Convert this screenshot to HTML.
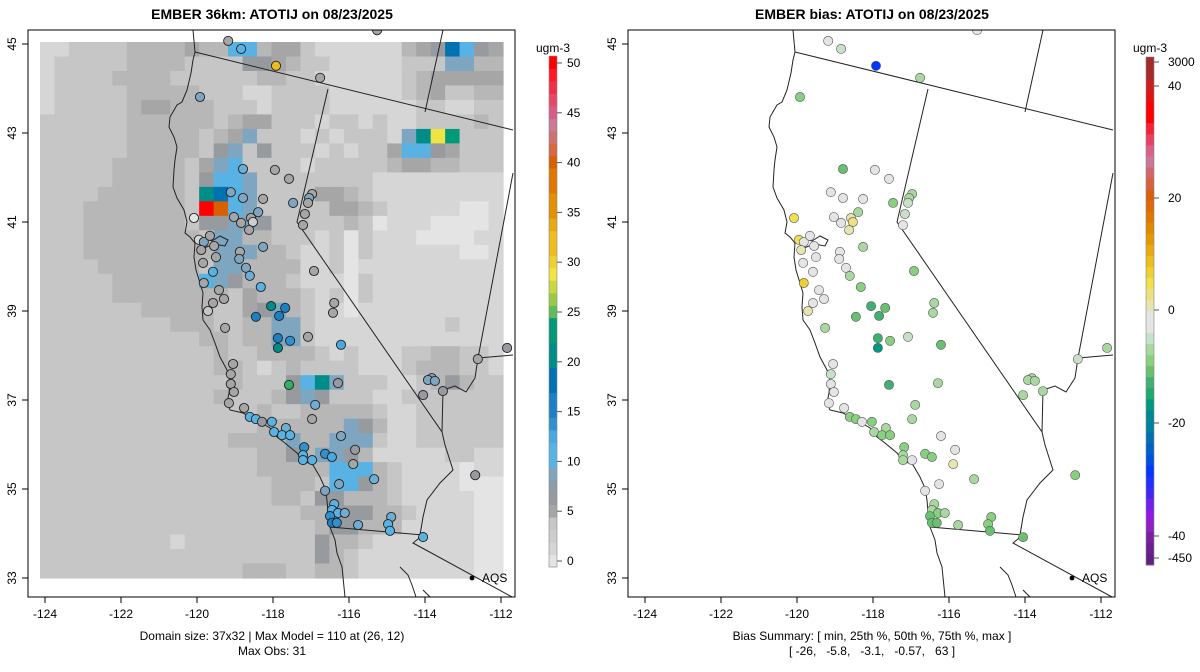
<!DOCTYPE html>
<html><head><meta charset="utf-8"><style>
html,body{margin:0;padding:0;background:#fff;}
svg{display:block;font-family:"Liberation Sans",Arial,sans-serif;}
</style></head><body>
<svg id="root" width="1200" height="672" viewBox="0 0 1200 672" xmlns="http://www.w3.org/2000/svg">
<defs>
<clipPath id="clipL"><rect x="28" y="30" width="487" height="567"/></clipPath>
<clipPath id="clipR"><rect x="628" y="30" width="487" height="567"/></clipPath>
</defs>
<rect width="1200" height="672" fill="#fff"/>
<text x="272" y="19" text-anchor="middle" font-size="14" font-weight="bold">EMBER 36km: ATOTIJ on 08/23/2025</text>
<text x="872" y="19" text-anchor="middle" font-size="14" font-weight="bold">EMBER bias: ATOTIJ on 08/23/2025</text>
<g id="leftPanel">
 <g id="gridL" clip-path="url(#clipL)"></g>
 <g id="mapL" clip-path="url(#clipL)"></g>
 <g id="sitesL" clip-path="url(#clipL)"></g>
 <rect x="28" y="30" width="487" height="567" fill="none" stroke="#000" stroke-width="1"/>
</g>
<g id="rightPanel">
 <g id="mapR" clip-path="url(#clipR)"></g>
 <g id="sitesR" clip-path="url(#clipR)"></g>
 <rect x="628" y="30" width="487" height="567" fill="none" stroke="#000" stroke-width="1"/>
</g>
<g id="axes"></g>
<g id="cbL"></g>
<g id="cbR"></g>
<text x="272" y="640" text-anchor="middle" font-size="12">Domain size: 37x32 | Max Model = 110 at (26, 12)</text>
<text x="272" y="655" text-anchor="middle" font-size="12">Max Obs: 31</text>
<text x="872" y="640" text-anchor="middle" font-size="12">Bias Summary: [ min, 25th %, 50th %, 75th %, max ]</text>
<text x="872" y="655" text-anchor="middle" font-size="12" xml:space="preserve">[ -26,   -5.8,   -3.1,   -0.57,   63 ]</text>
</svg>
<script>
// ---------- data ----------
var lonTicks = [-124,-122,-120,-118,-116,-114,-112];
var latTicks = [33,35,37,39,41,43,45];
var gridRows = [
"bbccccddddeddhhdeecbbbbbbdefihfe",
"bcccccddddccccffedccbbbbbcccggdd",
"bccccddddccccccddccbbbbbbcdeeeee",
"bcccccdddddcccbbccccbbbbbcdeccdd",
"bcccccdeedddcccbccccbbbbbbccbbcc",
"ccccccddddddcdeecccbccbcbbccccdc",
"ccccccdddddcdegcccbcbcccbgjlkccc",
"ccccccdddddcfgcfcccbcbccehhfeccc",
"cccccdddddceghccccbcccccdeeddccc",
"cccccdddddcfhhgccccccccbbbbbbbbb",
"ccccddddddcjihgcccceedcbbbbbbbbb",
"cccdddddddcnmhgccccceedcbbbbbaab",
"cccdddddddcffggfcccccdcabbbaaaab",
"cccddddddddcggddcccbcacbbbaaaabb",
"cccdddddddddgggddcbbcacbbbbbbaab",
"ccccdddddddcggddddbbcabbbbbbbbbb",
"cccccddddddhgfdddcbbbacbbbbbbbbb",
"cccccddddddddcedddcbcacbbbbbbbbb",
"cccccccdddddccefgdcbbabbbbbbbbbb",
"cccccccccdddccddggcbbbbbbbbbcbbb",
"cccccccccccddcddggcbbbbbbbbbbbbb",
"ccccccccccccdccddddcbcbbbccddccb",
"ccccccccccccddcbcdccccbbbcdddccb",
"cccccccccccccdcccfhjgcccbbcdfdcc",
"ccccccccccccdcccdfgfcccbbccccccc",
"cccccccccccccccdccdddddcbbcccccc",
"cccccccccccccccddddddgfdbbcccccc",
"cccccccccccccddddgddgggcbbcccccc",
"cccccccccccccccddfdggfdbbbbbccbb",
"cccccccccccccccdddddhhhdcbbbbabb",
"ccccccccccccccccdddchhfdcbbbbaaa",
"ccccccccccccccccddcffdddcbbbbbaa",
"ccccccccccccccccccddfffddcbbbbaa",
"cccccccccccccccccccdffdddbbbbbaa",
"cccccccccbcccccccccfddcbbbbbbbaa",
"cccccccccccccccccccfdcbbbbbbbbaa",
"ccccccccccccccdddccddcbbbbbbbbaa"
];
var gridLevels = {a:0.5,b:1.5,c:3.5,d:4.5,e:5.5,f:6.5,g:8.5,h:11,i:17.5,j:20,k:23,l:28.5,m:40,n:50};
var siteLon = [-119.18,-118.84,-117.92,-116.76,-115.26,-119.92,-118.79,-117.95,-117.58,-119.11,-118.79,-118.26,-117.47,-116.97,-117.05,-117.08,-117.16,-117.21,-120.08,-118.39,-119.03,-118.84,-118.58,-118.53,-118.63,-119.95,-119.82,-119.66,-119.55,-119.89,-118.26,-118.87,-118.89,-119.5,-119.84,-119.58,-118.71,-118.61,-116.92,-119.82,-119.42,-118.32,-119.29,-119.58,-119.71,-116.39,-116.42,-118.05,-117.68,-117.84,-118.45,-119.26,-117.87,-117.55,-117.87,-117.08,-116.21,-119.05,-119.11,-119.11,-119.03,-119.16,-118.76,-117.58,-116.29,-116.89,-116.97,-118.61,-118.45,-118.29,-118.03,-117.66,-117.97,-117.76,-117.55,-116.21,-117.18,-115.84,-116.63,-116.45,-117.21,-117.21,-116.97,-115.89,-115.34,-116.26,-116.63,-116.39,-116.45,-116.29,-116.11,-116.5,-116.45,-116.32,-115.76,-114.89,-114.97,-114.92,-114.05,-113.82,-113.92,-113.74,-114.05,-113.53,-112.61,-111.84,-112.68];
var siteLat = [45.07,44.89,44.51,44.24,45.31,43.81,42.19,42.17,41.97,41.67,41.54,41.52,41.43,41.63,41.54,41.43,41.18,40.93,41.09,41.22,41.11,40.98,41.09,41.0,40.82,40.6,40.55,40.69,40.46,40.37,40.44,40.33,40.17,40.21,40.08,39.88,39.97,39.79,39.9,39.63,39.47,39.54,39.27,39.18,39.0,39.18,38.96,39.11,39.07,38.89,38.87,38.62,38.39,38.33,38.17,38.42,38.24,37.81,37.58,37.36,37.18,36.93,36.82,37.34,37.38,36.89,36.57,36.62,36.57,36.51,36.51,36.37,36.28,36.21,36.21,36.19,35.94,35.88,35.79,35.72,35.76,35.65,35.65,35.56,35.22,35.11,34.96,34.66,34.53,34.46,34.46,34.39,34.24,34.24,34.19,34.37,34.21,34.06,33.92,37.49,37.45,37.43,37.11,37.2,37.92,38.17,35.31];
var siteObs = [5,11,32,5,5,8.5,9.5,5,5,8,8.5,5.5,8.5,5,8,5,5,5,0.5,8.5,5,5,5,2,5,1,8.5,5,5,5,8.5,5,8.5,5,5,10.5,8.5,9,5,5,5,11,5,5,3,5,5,20,15,16,15,5.5,16,14,20,5,12,5,5,5,5,5,5,24,6,9,5,11,11,6,11,9,11,11,11,8.5,14,6,14,12,11,11,11,5,9,8.5,8.5,11,11,11,9,14,15,14,9,9,11,11,11,8,8,8,6,6,5,6,6];
var siteBias = [0,-1,-26,-5,0,-6,-10,0,0,0,0,0,-6,-4,-4,-1,-1,0,7,-4,0,0,3,4,3,8,0,0,0,3,-4,0,0,0,0,0,0,-4,-6,10,0,-7,0,0,3,-3,-3,-14,-9,-12,-10,-5,-13,-8,-18,-2,-10,0,-1,0,0,0,0,-12,-3,-4,-3,-8,-8,0,-7,-4,-5,-6,-7,0,-7,0,-7,-8,-3,-3,0,3,-4,0,0,-5,-5,-8,-5,-9,-9,-10,-3,-8,-7,-9,-9,-3,-3,-3,-4,-4,-2,-4,-8];
var cbLTicks = [0,5,10,15,20,25,30,35,40,45,50];
var cbRLabels = ["3000","40","20","0","-20","-40","-450"];
var cbRLabelY = [62,86,198,310,423,536,558];

// ---------- axis functions ----------
function xL(lon){return 45+(lon+124)*38;}
function yL(lat){return 578-(lat-33)*44.5;}
var NS="http://www.w3.org/2000/svg";
function mk(tag,attrs,parent){var e=document.createElementNS(NS,tag);for(var k in attrs)e.setAttribute(k,attrs[k]);parent.appendChild(e);return e;}

function obsColor(v){
 var s=[[1,"#e4e4e4"],[2,"#d6d6d6"],[3,"#cdcdcd"],[4,"#c6c6c6"],[5,"#b7b7b7"],[6,"#a6a6a6"],[7,"#979b9f"],[8,"#8c9ca8"],[9,"#7ea6c0"],[10,"#6eaed4"],[12,"#58b2e4"],[13,"#48a8e0"],[15,"#3090d0"],[17,"#1c80c4"],[19,"#0072b2"],[20,"#007c98"],[22,"#008c88"],[24,"#009a78"],[25,"#30b060"],[26,"#60bc58"],[27,"#98cc48"],[28,"#c8d840"],[29,"#f0e442"],[31,"#f0d030"],[33,"#ecbc20"],[35,"#e8a810"],[37,"#e49000"],[39,"#e07800"],[41,"#d86000"],[42,"#d86840"],[43,"#d07070"],[45,"#cc7898"],[46,"#dc5c88"],[47,"#e84868"],[48,"#f03048"],[49.5,"#ff1828"],[999,"#ff0000"]];
 for(var i=0;i<s.length;i++) if(v<s[i][0]) return s[i][1];
 return "#ff0000";
}
function biasColor(v){
 if(v>-1&&v<1) return "#e4e4e4";
 var pos=[[4,"#e8e4b0"],[7,"#ece080"],[9,"#f0e050"],[11,"#f0d030"],[13,"#ecbc20"],[15,"#e8a810"],[17,"#e49000"],[20,"#e07800"],[25,"#d86010"],[30,"#d06868"],[35,"#c87898"],[40,"#e84060"],[999,"#ff0000"]];
 var neg=[[3,"#c8e0c8"],[6,"#a8d8a0"],[9,"#88d080"],[12,"#68c070"],[15,"#40b070"],[17,"#20a870"],[19,"#009880"],[21,"#0080a0"],[23,"#0060c8"],[25,"#0050e0"],[28,"#0038ff"],[32,"#4028f0"],[36,"#7020e8"],[40,"#9018e0"],[999,"#6c2090"]];
 var arr=v>0?pos:neg, a=Math.abs(v);
 for(var i=0;i<arr.length;i++) if(a<arr[i][0]) return arr[i][1];
 return "#000";
}

// ---------- heatmap ----------
var gL=document.getElementById("gridL");
var g0x=40,g0y=42,cw=463/32,ch=536/37;
for(var r=0;r<gridRows.length;r++){
 var row=gridRows[r];
 for(var c=0;c<32;c++){
  var v=gridLevels[row.charAt(c)]; if(v===undefined) v=3.5;
  var cell=mk("rect",{x:(g0x+c*cw).toFixed(2),y:(g0y+r*ch).toFixed(2),width:(cw+0.6).toFixed(2),height:(ch+0.6).toFixed(2),fill:obsColor(v)},gL);
  
  
 }
}

// ---------- basemap (pixel geometry of left panel) ----------
var mapPath="M193,30 L195,52 L193,60 L191,73 L187,90 L182,102 L177,105 L170,117 L169,127 L174,137 L177,147 L175,160 L174,170 L173,187 L177,198 L184,210 L187,222 L185,233 L190,237 L195,243 L194,257 L196,270 L200,283 L203,293 L202,307 L203,320 L210,330 L215,343 L220,357 L227,370 L230,380 L229,393 L227,403 L230,410 L243,413 L260,422 L270,428 L277,437 L285,443 L297,453 L302,460 L313,465 L320,477 L325,488 L327,500 L328,513 L330,527 L335,540 L337,553 L342,567 L345,597 "+
"M195,243 L203,238 L212,241 L220,236 L228,240 L225,246 L214,244 L204,248 "+
"M195,52 L513,130 M443,30 L425,112 M328,89 L297,222 L442,432 L445,445 L453,470 L440,483 L427,500 L423,517 L420,535 "+
"M330,527 L423,535 L413,543 L512,597 M513,173 L478,358 L475,378 L466,392 L455,386 L443,390 L442,432 M478,358 L513,355 "+
"M400,567 L408,575 L412,585 L416,597 M423,590 L430,597";
["mapL","mapR"].forEach(function(id,i){
 var p=mk("path",{d:mapPath,fill:"none",stroke:"#222",'stroke-width':"1",transform:"translate("+(i*600)+",0)"},document.getElementById(id));
 
 
});

// ---------- sites ----------
var sL=document.getElementById("sitesL"), sR=document.getElementById("sitesR");
for(var k=0;k<siteLon.length;k++){
 var cx=xL(siteLon[k]), cy=yL(siteLat[k]);
 var a=mk("circle",{cx:cx.toFixed(1),cy:cy.toFixed(1),r:"4.6",fill:obsColor(siteObs[k]),stroke:"#222",'stroke-width':"0.9"},sL);
 
 
 var b=mk("circle",{cx:(cx+600).toFixed(1),cy:cy.toFixed(1),r:"4.6",fill:biasColor(siteBias[k]),stroke:"#555",'stroke-width':"0.6"},sR);
 
 
}
[0,600].forEach(function(off){
 var d=mk("circle",{cx:472+off,cy:578,r:"2.4",fill:"#000"},document.getElementById("axes"));
 
 
 var t=mk("text",{x:482+off,y:582,'font-size':"12"},document.getElementById("axes"));
 t.textContent="AQS";
 
 
});

// ---------- axes ----------
var ax=document.getElementById("axes");
[0,600].forEach(function(off){
 lonTicks.forEach(function(t){
  var x=xL(t)+off;
  var l=mk("line",{x1:x,y1:597,x2:x,y2:603,stroke:"#000"},ax);
  
  
  var tx=mk("text",{x:x,y:618,'text-anchor':"middle",'font-size':"12"},ax);
  tx.textContent=t;
  
  
 });
 latTicks.forEach(function(t){
  var y=yL(t);
  var l=mk("line",{x1:28+off,y1:y,x2:22+off,y2:y,stroke:"#000"},ax);
  
  
  var tx=mk("text",{x:0,y:0,'text-anchor':"middle",'font-size':"12",transform:"translate("+(16+off)+","+y+") rotate(-90)"},ax);
  tx.textContent=t;
  
  
 });
});

// ---------- left colorbar ----------
var cL=document.getElementById("cbL");
function cbY(v){return 561-v*9.96;}
var nb=41, v0=-0.6, v1=50.7, step=(v1-v0)/nb;
for(var i=0;i<nb;i++){
 var va=v0+i*step, vb=va+step;
 var rr=mk("rect",{x:549,y:cbY(vb).toFixed(2),width:8,height:(step*9.96+0.5).toFixed(2),fill:obsColor(va+step/2)},cL);
 
 
}
mk("rect",{x:549,y:cbY(v1),width:8,height:(v1-v0)*9.96,fill:"none",stroke:"#888",'stroke-width':"0.6"},cL);
cbLTicks.forEach(function(t){
 var y=cbY(t);
 var l=mk("line",{x1:557,y1:y,x2:562,y2:y,stroke:"#555"},cL);
 
 
 var tx=mk("text",{x:567,y:y+4,'font-size':"12"},cL);
 tx.textContent=t;
 
 
});
var uL=mk("text",{x:553,y:52,'text-anchor':"middle",'font-size':"12"},cL);
uL.textContent="ugm-3";



// ---------- right colorbar ----------
var cR=document.getElementById("cbR");
var rCols=["#a52a2a","#a52a2a","#c8201e","#dc1414","#ff0000","#ff0000","#f5203a","#e84060","#d8608a","#c87898","#d06868","#d86040","#d86010","#e06808","#e07800","#e08800","#e39a00","#e8aa10","#ecbc20","#f0d030","#f0e050","#ece080","#e8e4b0","#e4e4e4","#e4e4e4","#c8e0c8","#a8d8a0","#88d080","#68c070","#40b070","#20a870","#009880","#008890","#0080a0","#0070b0","#0060c8","#0050e0","#0038ff","#2030ff","#4028f0","#7020e8","#9018e0","#9020c0","#7820a0","#6c2090","#602080"];
var rTop=57, rBot=565, rh=(rBot-rTop)/rCols.length;
rCols.forEach(function(col,i){
 var rr=mk("rect",{x:1146,y:(rTop+i*rh).toFixed(2),width:8,height:(rh+0.5).toFixed(2),fill:col},cR);
 
 
});
mk("rect",{x:1146,y:rTop,width:8,height:rBot-rTop,fill:"none",stroke:"#888",'stroke-width':"0.6"},cR);
cbRLabels.forEach(function(t,i){
 var y=cbRLabelY[i];
 var l=mk("line",{x1:1154,y1:y,x2:1159,y2:y,stroke:"#555"},cR);
 
 
 var tx=mk("text",{x:1168,y:y+4,'font-size':"12"},cR);
 tx.textContent=t;
 
 
});
var uR=mk("text",{x:1150,y:52,'text-anchor':"middle",'font-size':"12"},cR);
uR.textContent="ugm-3";


</script>
</body></html>
